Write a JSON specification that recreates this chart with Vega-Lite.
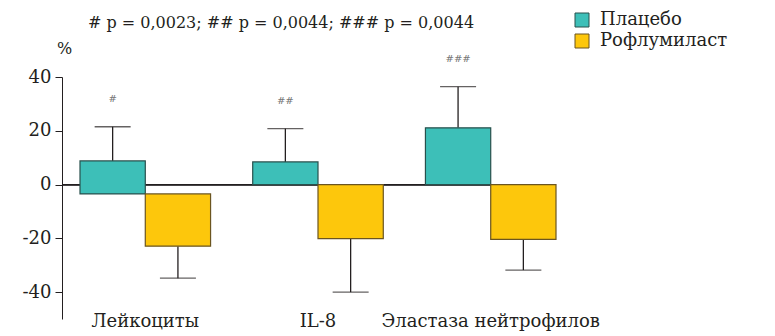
{
  "$schema": "https://vega.github.io/schema/vega-lite/v6.json",
  "autosize": "none",
  "width": 494,
  "height": 242,
  "padding": {"left": 62, "top": 77, "right": 219, "bottom": 17},
  "background": "white",
  "config": {
    "font": "DejaVu Serif",
    "view": {"stroke": null},
    "axis": {"labelColor": "#231f20", "titleColor": "#231f20", "domainColor": "#231f20", "tickColor": "#231f20", "labelFont": "DejaVu Serif", "titleFont": "DejaVu Serif"},
    "legend": {"labelFont": "DejaVu Serif"},
    "text": {"font": "DejaVu Serif"}
  },
  "title": {
    "text": "# p = 0,0023; ## p = 0,0044; ### p = 0,0044",
    "anchor": "start",
    "frame": "group",
    "dx": 26,
    "offset": -20,
    "fontSize": 16,
    "fontWeight": "normal",
    "color": "#231f20",
    "font": "DejaVu Serif"
  },
  "data": {
    "values": [
      {"group": "Лейкоциты", "treatment": "Плацебо", "base": -3.5, "value": 8.8, "err": 21.5, "sig": "#"},
      {"group": "Лейкоциты", "treatment": "Рофлумиласт", "base": -3.5, "value": -22.9, "err": -34.8, "sig": ""},
      {"group": "IL-8", "treatment": "Плацебо", "base": 0, "value": 8.4, "err": 20.8, "sig": "##"},
      {"group": "IL-8", "treatment": "Рофлумиласт", "base": 0, "value": -20.1, "err": -40, "sig": ""},
      {"group": "Эластаза нейтрофилов", "treatment": "Плацебо", "base": 0, "value": 21.1, "err": 36.4, "sig": "###"},
      {"group": "Эластаза нейтрофилов", "treatment": "Рофлумиласт", "base": 0, "value": -20.4, "err": -31.8, "sig": ""}
    ]
  },
  "encoding": {
    "x": {
      "field": "group",
      "type": "nominal",
      "sort": ["Лейкоциты", "IL-8", "Эластаза нейтрофилов"],
      "scale": {"range": [18, 494], "paddingInner": 0.244, "paddingOuter": 0},
      "axis": {"title": null, "domain": false, "ticks": false, "labelAngle": 0, "labelFontSize": 18, "labelPadding": -7, "labelLimit": 0, "labelColor": "#231f20"}
    },
    "xOffset": {"field": "treatment", "type": "nominal", "scale": {"paddingInner": 0, "paddingOuter": 0}}
  },
  "layer": [
    {
      "mark": {"type": "rule", "color": "#231f20", "strokeWidth": 1.2},
      "encoding": {"x": null, "xOffset": null, "y": {"datum": 0, "type": "quantitative"}}
    },
    {
      "mark": {"type": "rule", "color": "#231f20", "strokeWidth": 1.3},
      "encoding": {
        "y": {"field": "value", "type": "quantitative"},
        "y2": {"field": "err"}
      }
    },
    {
      "mark": {"type": "tick", "orient": "horizontal", "color": "#231f20", "thickness": 1.3, "size": 36},
      "encoding": {
        "y": {"field": "err", "type": "quantitative"}
      }
    },
    {
      "mark": {"type": "bar", "strokeWidth": 1.2},
      "encoding": {
        "y": {
          "field": "base",
          "type": "quantitative",
          "scale": {"domain": [-50, 40], "nice": false},
          "axis": {
            "values": [-40, -20, 0, 20, 40],
            "labelExpr": "replace(datum.label, '−', '-')",
            "grid": false,
            "tickSize": 7,
            "labelFontSize": 18,
            "labelPadding": 4,
            "title": "%",
            "titleAngle": 0,
            "titleX": 2,
            "titleY": -29,
            "titleAlign": "center",
            "titleBaseline": "middle",
            "titleFontSize": 16,
            "titleFontWeight": "normal"
          }
        },
        "y2": {"field": "value"},
        "color": {
          "field": "treatment",
          "type": "nominal",
          "scale": {"domain": ["Плацебо", "Рофлумиласт"], "range": ["#3dbfb8", "#fdc70c"]},
          "legend": {
            "title": null,
            "orient": "none",
            "legendX": 511,
            "legendY": -66,
            "symbolType": "square",
            "symbolSize": 196,
            "symbolStrokeColor": "#555555",
            "symbolStrokeWidth": 1,
            "labelFontSize": 18,
            "labelColor": "#231f20",
            "labelOffset": 9,
            "rowPadding": 3
          }
        },
        "stroke": {
          "field": "treatment",
          "type": "nominal",
          "scale": {"domain": ["Плацебо", "Рофлумиласт"], "range": ["#28504c", "#6b5520"]},
          "legend": null
        }
      }
    },
    {
      "mark": {"type": "text", "fontSize": 10, "color": "#777777", "dy": -28, "baseline": "middle"},
      "encoding": {
        "y": {"field": "err", "type": "quantitative"},
        "text": {"field": "sig"}
      }
    }
  ]
}
